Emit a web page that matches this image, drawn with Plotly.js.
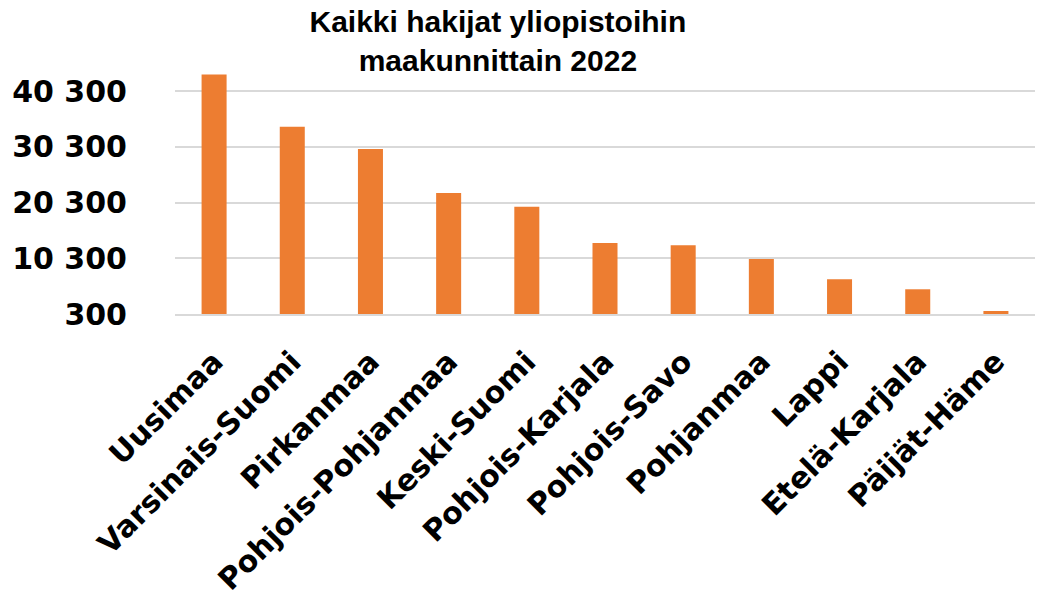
<!DOCTYPE html>
<html>
<head>
<meta charset="utf-8">
<script src="https://cdn.plot.ly/plotly-3.0.1.min.js"></script>
<style>
  html, body { margin: 0; padding: 0; background: #fff; }
  #chart { width: 1046px; height: 608px; }
</style>
</head>
<body>
<div id="chart"></div>
<script>
const regions = ["Uusimaa", "Varsinais-Suomi", "Pirkanmaa", "Pohjois-Pohjanmaa", "Keski-Suomi",
  "Pohjois-Karjala", "Pohjois-Savo", "Pohjanmaa", "Lappi", "Etelä-Karjala", "Päijät-Häme"];
const applicants = [43290, 33930, 29920, 22010, 19540, 13070, 12650, 10190, 6540, 4740, 840];
const tickValues = [300, 10300, 20300, 30300, 40300];
const tickLabels = ["300", "10 300", "20 300", "30 300", "40 300"];

const data = [{
  type: "bar",
  x: regions,
  y: applicants,
  marker: { color: "#ED7D31" },
  hoverinfo: "x+y"
}];

const layout = {
  width: 1046,
  height: 608,
  margin: { l: 175, r: 11, t: 69, b: 294 },
  paper_bgcolor: "#ffffff",
  plot_bgcolor: "#ffffff",
  bargap: 0.68,
  showlegend: false,
  title: {
    text: "Kaikki hakijat yliopistoihin<br>maakunnittain 2022",
    font: { family: "Liberation Sans, Arial, sans-serif", size: 30, color: "#000", weight: "bold" },
    x: 0.476, xanchor: "center", xref: "container",
    y: 0.948, yanchor: "top", yref: "container"
  },
  xaxis: {
    type: "category",
    tickangle: -45,
    tickfont: { family: "DejaVu Sans, sans-serif", size: 30, color: "#000", weight: "bold" },
    showgrid: false,
    showline: true,
    linecolor: "#d9d9d9",
    linewidth: 2,
    ticks: "outside",
    ticklen: 16,
    tickcolor: "rgba(0,0,0,0)"
  },
  yaxis: {
    range: [300, 44300],
    tickmode: "array",
    tickvals: tickValues,
    ticktext: tickLabels,
    tickfont: { family: "DejaVu Sans, sans-serif", size: 30, color: "#000", weight: "bold" },
    showgrid: true,
    gridcolor: "#d9d9d9",
    gridwidth: 2,
    zeroline: false,
    showline: false,
    ticks: "outside",
    ticklen: 41,
    tickcolor: "rgba(0,0,0,0)"
  }
};

Plotly.newPlot("chart", data, layout, { displayModeBar: false, staticPlot: true });
</script>
</body>
</html>
